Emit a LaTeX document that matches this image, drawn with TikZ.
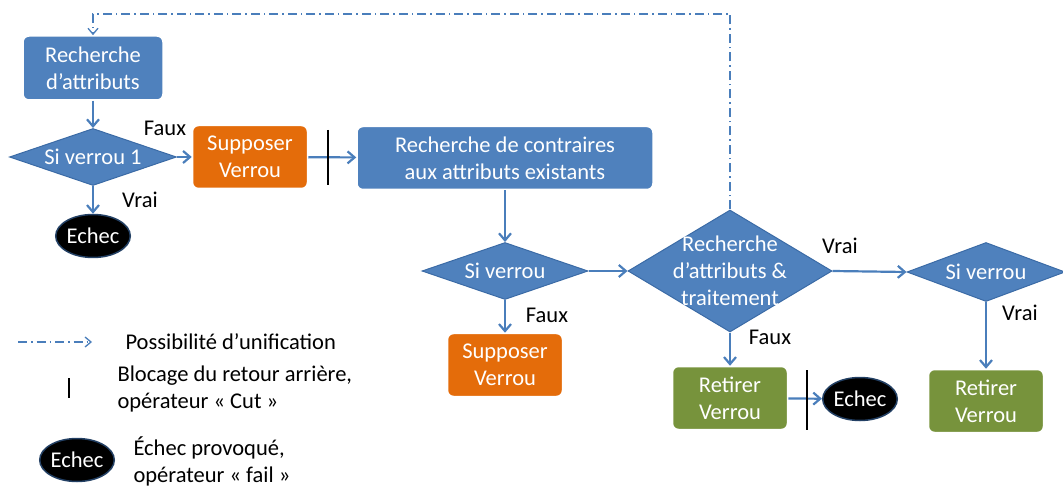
\documentclass[tikz,border=0pt]{standalone}
\usepackage{fontspec}
\setmainfont{Carlito}
\usetikzlibrary{arrows.meta,positioning,shapes.geometric}
\definecolor{bleu}{HTML}{4F81BD}
\definecolor{bleuf}{HTML}{3B6BA6}
\definecolor{orangeb}{HTML}{E46C0A}
\definecolor{vert}{HTML}{77933C}
\definecolor{trait}{HTML}{4A7EBB}

\begin{document}
\begin{tikzpicture}[x=1pt,y=-1pt,font=\fontsize{22.5}{27}\selectfont,
box/.style={draw=white,line width=1.5pt,rounded corners=6pt,align=center,text=white,inner sep=0pt},
bleubox/.style={box,fill=bleu},
suppose/.style={box,fill=orangeb,minimum width=115pt,minimum height=63pt},
retire/.style={box,fill=vert,minimum width=115pt,minimum height=63pt},
dia/.style={diamond,draw=bleuf,fill=bleu,line width=1pt,inner sep=0pt},
dlab/.style={text=white,align=center},
echec/.style={ellipse,fill=black,draw=bleuf!60!black,line width=1.5pt,text=white,minimum width=74pt,minimum height=43pt,inner sep=0pt},
arr/.style={draw=trait,line width=2.2pt,-{Straight Barb[length=7pt,width=12pt]}},
unif/.style={draw=trait,line width=1.3pt,dash pattern=on 9pt off 4pt on 1.5pt off 4pt},
coupe/.style={line width=2.2pt}]
\useasboundingbox (0,0) rectangle (1063,486);
% blocs
\node[bleubox,minimum width=140pt,minimum height=64pt] (ra) at (93,68) {Recherche\\d’attributs};
\node[dia,minimum width=167pt,minimum height=57pt,label={[dlab]center:Si verrou 1}] (sv1) at (93,157) {};
\node[suppose] (sup1) at (250,157) {Supposer\\Verrou};
\node[echec] (ech1) at (93,236) {Echec};
\node[bleubox,minimum width=296pt,minimum height=63pt] (rc) at (505,158) {Recherche de contraires\\aux attributs existants};
\node[dia,minimum width=166pt,minimum height=57pt,label={[dlab]center:Si verrou}] (sv2) at (505,271) {};
\node[suppose] (sup2) at (505,365) {Supposer\\Verrou};
\node[dia,minimum width=204pt,minimum height=122pt,label={[dlab]center:Recherche\\d’attributs \&\\traitement}] (rt) at (730,271) {};
\node[dia,minimum width=158pt,minimum height=59pt,label={[dlab]center:Si verrou}] (sv3) at (986,272) {};
\node[retire] (ret1) at (730,398) {Retirer\\Verrou};
\node[echec] (ech2) at (860,399) {Echec};
\node[retire] (ret2) at (986,401) {Retirer\\Verrou};
% etiquettes
\node (f1) at (165,128) {Faux};
\node (v1) at (140,200) {Vrai};
\node (f2) at (547,315) {Faux};
\node (v2) at (840,246) {Vrai};
\node (f3) at (770,337) {Faux};
\node (v3) at (1020,313) {Vrai};
% liens
\draw[arr](ra)--(sv1);\draw[arr](sv1)--(sup1);\draw[arr](sv1)--(ech1);\draw[arr](sup1)--(rc);
\draw[arr](rc)--(sv2);\draw[arr](sv2)--(sup2);\draw[arr](sv2.east)--(rt.west);\draw[arr](rt.east)--(sv3.west);
\draw[arr](rt)--(ret1);\draw[arr](sv3)--(ret2);\draw[arr](ret1)--(ech2);
\coordinate (haut) at (93,14);
\draw[unif,-{Straight Barb[length=6pt,width=10pt]}](rt.north)|-(haut)--(ra.north);
\draw[coupe](328,130)--(328,185);\draw[coupe](807,370)--(807,430);
% legende
\coordinate (lg1) at (18,342);\coordinate (lg2) at (92,342);
\draw[unif,-{Straight Barb[length=6pt,width=10pt]}](lg1)--(lg2);
\node[anchor=west] (tunif) at (122,342) {Possibilité d’unification};
\draw[coupe](69,378)--(69,398);
\node[anchor=west,align=left] (tcut) at (114,389) {Blocage du retour arrière,\\opérateur « Cut »};
\node[echec] (ech3) at (77,460) {Echec};
\node[anchor=west,align=left] (tfail) at (130,461) {Échec provoqué,\\opérateur « fail »};
\end{tikzpicture}
\end{document}
